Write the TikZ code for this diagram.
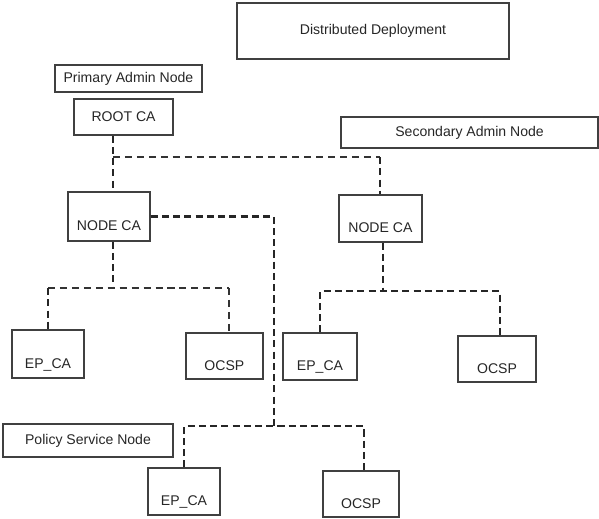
\documentclass[tikz,border=0pt]{standalone}
\usepackage{fontspec}
\setmainfont{Liberation Sans}
\usepackage{xcolor}
\usepackage{tikz}
\usetikzlibrary{positioning,calc}

\begin{document}
\begin{tikzpicture}[
  box/.style={draw=black!75, line width=0.9pt, rectangle, text=black!85,
              font=\fontsize{10}{12}\selectfont, text centered, inner sep=2pt},
  unit/.style={box, text height=20pt, text depth=0pt},
  lnk/.style={black!85, line width=1.8pt, dash pattern=on 5pt off 3pt},
  lnkthin/.style={black!80, line width=1pt, dash pattern=on 5pt off 3.5pt}
]
\useasboundingbox (0,0) rectangle (14.975,-12.95);

% ─── Title ───
\node[box, minimum width=6.8cm, minimum height=1.4cm] (title)
     at (9.325,-0.775) {Distributed Deployment};

% ─── Primary admin node ───
\node[box, minimum width=3.675cm, minimum height=0.675cm] (prim)
     at (3.21,-1.96) {Primary Admin Node};
\node[box, minimum width=2.475cm, minimum height=0.9cm] (root)
     at (3.09,-2.925) {ROOT CA};
\node[unit, minimum width=2.05cm, minimum height=1.225cm] (lnca)
     at (2.725,-5.41) {NODE CA};
\node[unit, minimum width=1.8cm, minimum height=1.2cm] (lep)
     at (1.2,-8.85) {EP\_CA};
\node[unit, minimum width=1.925cm, minimum height=1.15cm] (locsp)
     at (5.61,-8.9) {OCSP};

% ─── Secondary admin node ───
\node[box, minimum width=6.425cm, minimum height=0.775cm] (sec)
     at (11.74,-3.31) {Secondary Admin Node};
\node[unit, minimum width=2.075cm, minimum height=1.175cm] (rnca)
     at (9.51,-5.46) {NODE CA};
\node[unit, minimum width=1.85cm, minimum height=1.175cm] (mep)
     at (8.0,-8.91) {EP\_CA};
\node[unit, minimum width=1.95cm, minimum height=1.15cm] (rocsp)
     at (12.425,-8.975) {OCSP};

% ─── Policy service node ───
\node[box, minimum width=4.25cm, minimum height=0.825cm] (pol)
     at (2.2,-11.01) {Policy Service Node};
\node[unit, minimum width=1.8cm, minimum height=1.175cm] (bep)
     at (4.6,-12.29) {EP\_CA};
\node[unit, minimum width=1.9cm, minimum height=1.15cm] (bocsp)
     at (9.025,-12.35) {OCSP};

% ─── Junctions ───
\coordinate (rj)  at (2.825,-3.925);
\coordinate (sj)  at (9.5,-3.925);
\coordinate (lj)  at (2.825,-7.2);
\coordinate (lr)  at (5.725,-7.2);
\coordinate (rtj) at (9.575,-7.275);
\coordinate (rtr) at (12.5,-7.275);
\coordinate (pj)  at (6.85,-10.65);
\coordinate (pr)  at (9.1,-10.65);

% ─── Root CA -> node CAs ───
\draw[lnk] (root.south -| rj) -- (lnca.north -| rj);
\draw[lnkthin] (rj) -- (sj);
\draw[lnk] (sj) -- (rnca.north -| sj);

% ─── Left node CA tree ───
\draw[lnk] (lnca.south -| lj) -- (lj);
\draw[lnkthin] (lep.north |- lj) -- (lr);
\draw[lnk] (lep.north |- lj) -- (lep.north);
\draw[lnkthin] (lr) -- (locsp.north -| lr);

% ─── Right node CA tree ───
\draw[lnk] (rnca.south -| rtj) -- (rtj);
\draw[lnk] (mep.north) |- (rtr) -- (rocsp.north -| rtr);

% ─── Policy service tree ───
\draw[lnk] (lnca.east) -| (pj);
\draw[lnk] (bep.north) |- (pr) -- (bocsp.north -| pr);

\end{tikzpicture}
\end{document}
